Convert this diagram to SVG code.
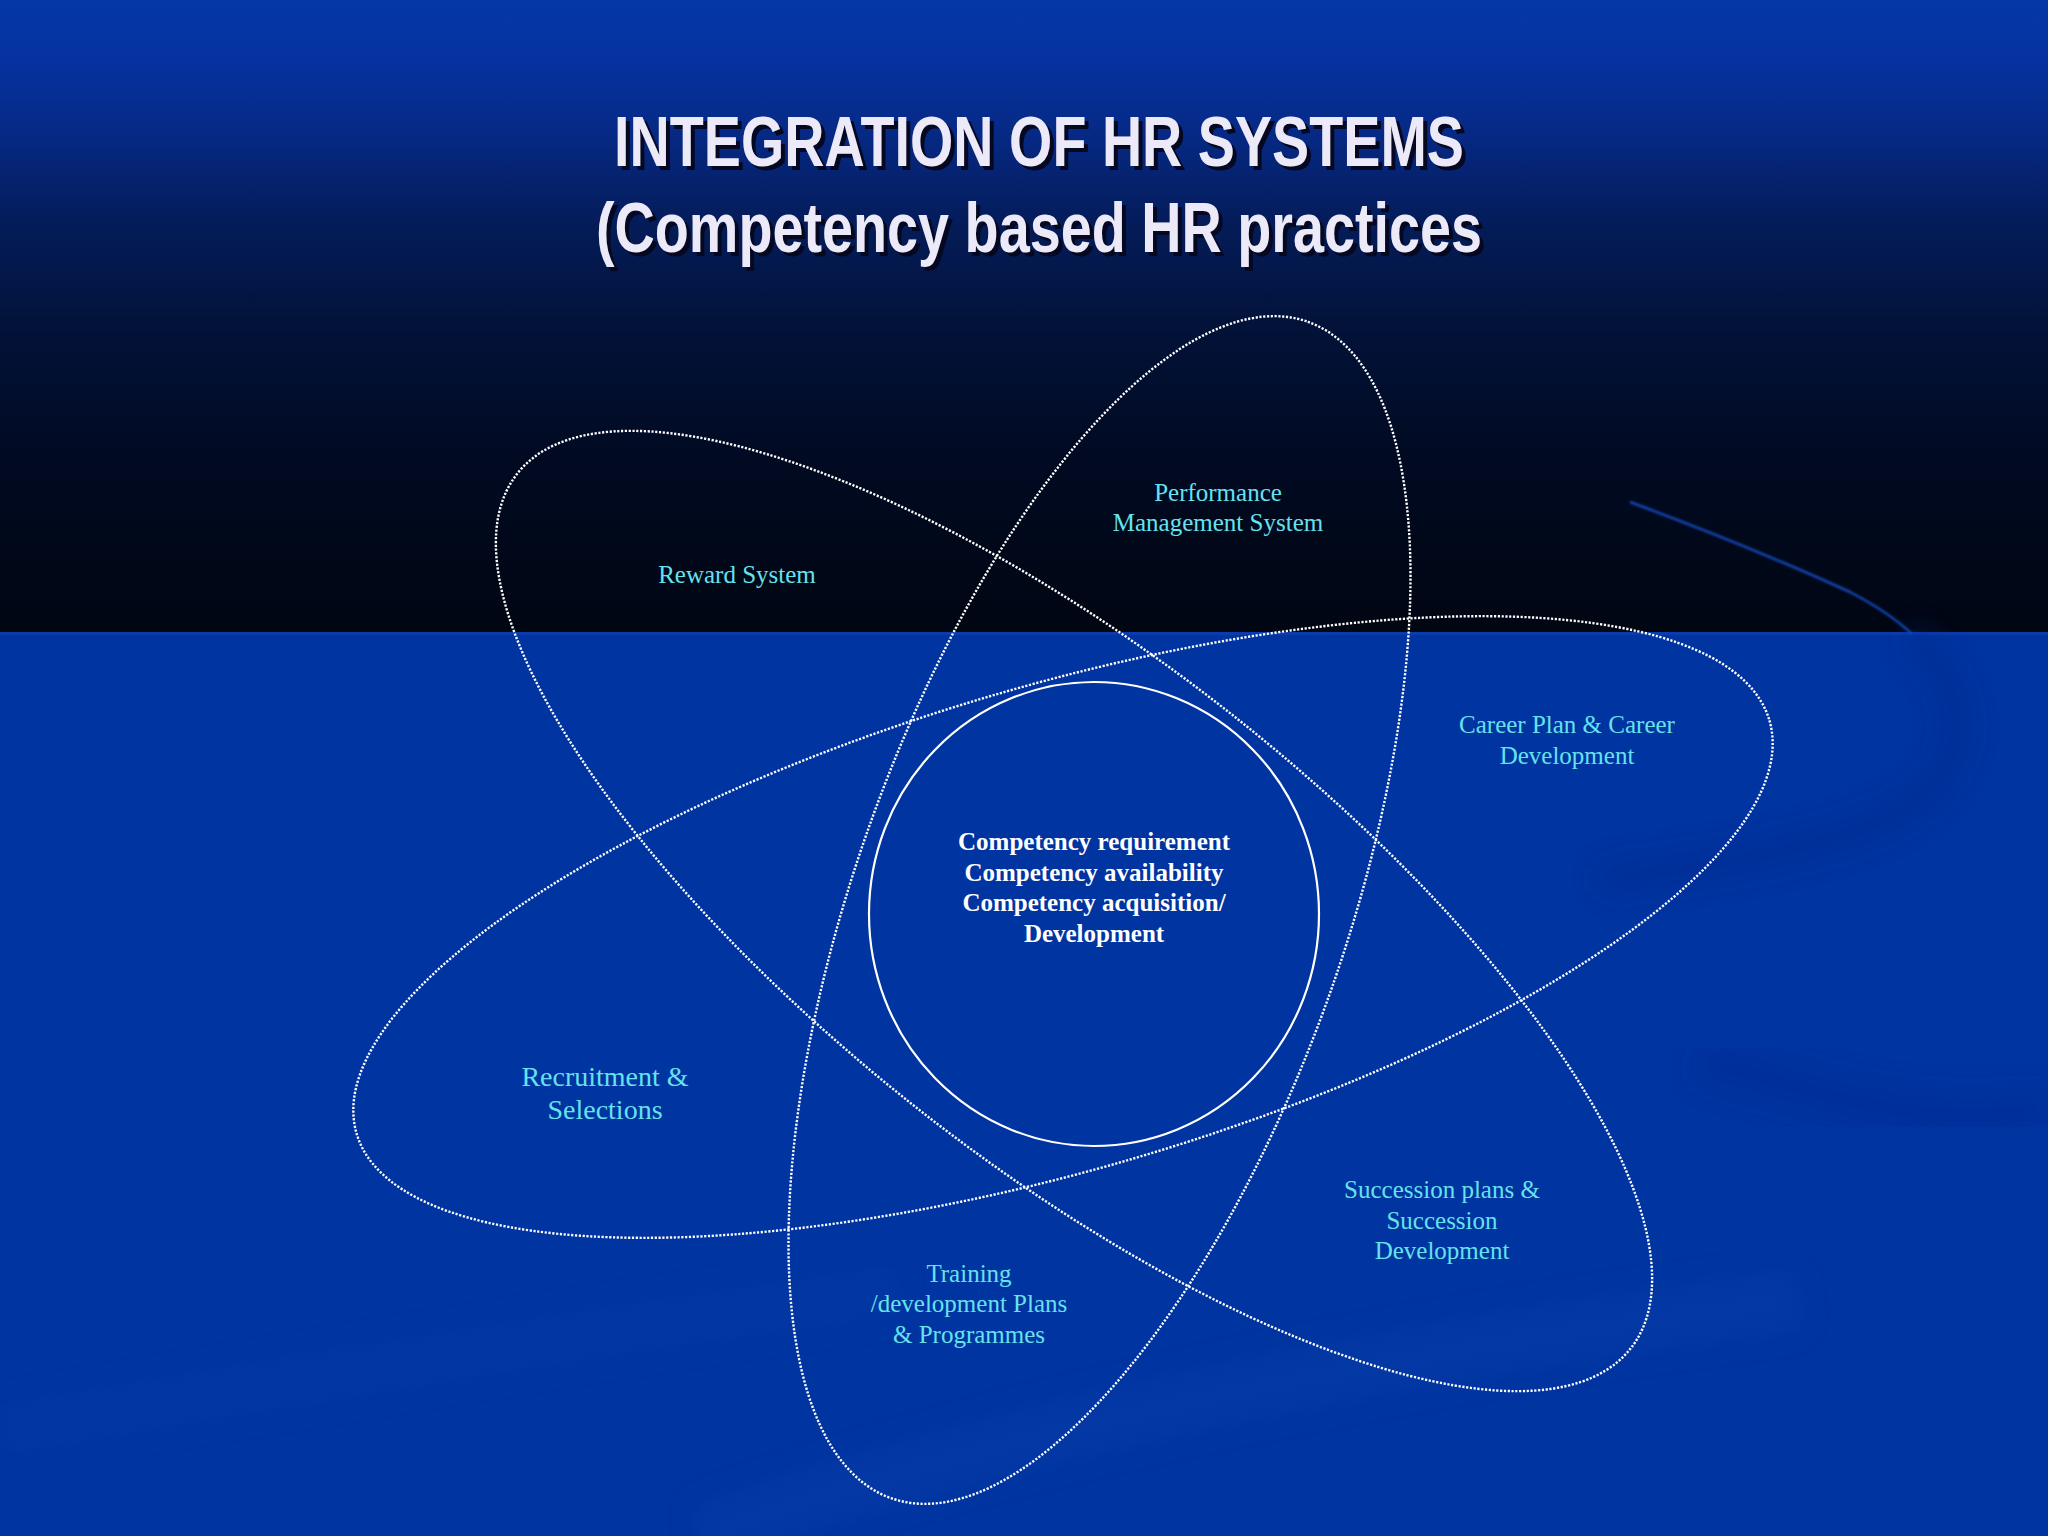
<svg xmlns="http://www.w3.org/2000/svg" width="2048" height="1536" viewBox="0 0 2048 1536">
  <defs>
    <linearGradient id="topGrad" x1="0" y1="0" x2="0" y2="1">
      <stop offset="0" stop-color="#0537a8"/>
      <stop offset="0.1" stop-color="#0532a0"/>
      <stop offset="0.2" stop-color="#062a88"/>
      <stop offset="0.35" stop-color="#041c5a"/>
      <stop offset="0.52" stop-color="#021238"/>
      <stop offset="0.72" stop-color="#010a22"/>
      <stop offset="1" stop-color="#000612"/>
    </linearGradient>
    <filter id="blur" x="-20%" y="-20%" width="140%" height="140%">
      <feGaussianBlur stdDeviation="14"/>
    </filter>
    <filter id="blurS" x="-20%" y="-20%" width="140%" height="140%">
      <feGaussianBlur stdDeviation="1"/>
    </filter>
    <style>
      .orbit { fill: none; stroke: #ffffff; stroke-width: 2.4; stroke-dasharray: 2.2 1.6; }
      .core { fill: none; stroke: #ffffff; stroke-width: 2.2; }
      .label { font-family: "Liberation Serif", "Times New Roman", serif; font-size: 25px; fill: #66e2ef; text-anchor: middle; }
      .big { font-size: 28px; }
      .coretext { font-family: "Liberation Serif", "Times New Roman", serif; font-size: 25px; font-weight: bold; fill: #ffffff; text-anchor: middle; }
      .title { font-family: "Liberation Sans", Arial, sans-serif; font-size: 71px; font-weight: bold; }
      .titleFg { fill: #eceaf8; }
      .titleSh { fill: #050820; }
    </style>
  </defs>

  <!-- background -->
  <g id="background">
    <rect x="0" y="0" width="2048" height="632" fill="url(#topGrad)"/>
    <rect x="0" y="632" width="2048" height="904" fill="#0034a0"/>
    <rect x="0" y="632" width="2048" height="3" fill="#0a3cab"/>
    <path d="M1910 634 C1960 680 1975 740 1930 790 C1880 840 1750 860 1600 880" fill="none" stroke="#00258a" stroke-width="26" opacity="0.45" filter="url(#blur)"/>
    <path d="M1700 1060 C1820 1090 1900 1130 2048 1110" fill="none" stroke="#00288e" stroke-width="40" opacity="0.35" filter="url(#blur)"/>
    <path d="M700 1536 C1000 1430 1400 1350 1800 1300" fill="none" stroke="#0a44b4" stroke-width="60" opacity="0.25" filter="url(#blur)"/>
    <path d="M0 1430 C300 1380 600 1330 900 1290" fill="none" stroke="#0a42b2" stroke-width="50" opacity="0.2" filter="url(#blur)"/>
    <path d="M1630 502 C1700 528 1780 560 1850 592 C1875 605 1895 618 1912 634" fill="none" stroke="#1747b8" stroke-width="2.5" filter="url(#blurS)"/>
  </g>

  <!-- title -->
  <g id="title">
    <text class="title titleSh" x="618" y="170" textLength="850" lengthAdjust="spacingAndGlyphs">INTEGRATION OF HR SYSTEMS</text>
    <text class="title titleFg" x="614" y="166" textLength="850" lengthAdjust="spacingAndGlyphs">INTEGRATION OF HR SYSTEMS</text>
    <text class="title titleSh" x="600" y="256" textLength="886" lengthAdjust="spacingAndGlyphs">(Competency based HR practices</text>
    <text class="title titleFg" x="596" y="252" textLength="886" lengthAdjust="spacingAndGlyphs">(Competency based HR practices</text>
  </g>

  <!-- orbits -->
  <g id="node-recruitment-career-orbit">
    <ellipse class="orbit" cx="1063" cy="927" rx="736" ry="242" transform="rotate(-16.3 1063 927)"/>
  </g>
  <g id="node-reward-succession-orbit">
    <ellipse class="orbit" cx="1074" cy="911" rx="708" ry="252" transform="rotate(38.15 1074 911)"/>
  </g>
  <g id="node-performance-training-orbit">
    <ellipse class="orbit" cx="1099.5" cy="910" rx="624" ry="245" transform="rotate(-70.5 1099.5 910)"/>
  </g>

  <!-- core -->
  <g id="node-core">
    <ellipse class="core" cx="1094" cy="914" rx="225" ry="232"/>
    <text class="coretext" x="1094" y="850">Competency requirement</text>
    <text class="coretext" x="1094" y="881">Competency availability</text>
    <text class="coretext" x="1094" y="911">Competency acquisition/</text>
    <text class="coretext" x="1094" y="942">Development</text>
  </g>

  <!-- labels -->
  <g id="node-reward">
    <text class="label" x="737" y="583">Reward System</text>
  </g>
  <g id="node-performance">
    <text class="label" x="1218" y="501">Performance</text>
    <text class="label" x="1218" y="531">Management System</text>
  </g>
  <g id="node-career">
    <text class="label" x="1567" y="733">Career Plan &amp; Career</text>
    <text class="label" x="1567" y="764">Development</text>
  </g>
  <g id="node-recruitment">
    <text class="label big" x="605" y="1086">Recruitment &amp;</text>
    <text class="label big" x="605" y="1119">Selections</text>
  </g>
  <g id="node-succession">
    <text class="label" x="1442" y="1198">Succession plans &amp;</text>
    <text class="label" x="1442" y="1229">Succession</text>
    <text class="label" x="1442" y="1259">Development</text>
  </g>
  <g id="node-training">
    <text class="label" x="969" y="1282">Training</text>
    <text class="label" x="969" y="1312">/development Plans</text>
    <text class="label" x="969" y="1343">&amp; Programmes</text>
  </g>
</svg>
